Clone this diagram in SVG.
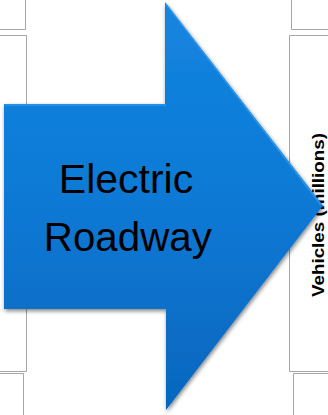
<svg xmlns="http://www.w3.org/2000/svg" width="328" height="415" viewBox="0 0 328 415">
  <defs>
    <linearGradient id="blue" x1="0" y1="0" x2="0" y2="1">
      <stop offset="0" stop-color="#1585e0"/>
      <stop offset="0.5" stop-color="#0a79d5"/>
      <stop offset="1" stop-color="#0666bd"/>
    </linearGradient>
    <filter id="shadow" x="-10%" y="-10%" width="120%" height="120%">
      <feGaussianBlur in="SourceAlpha" stdDeviation="2"/>
      <feOffset dx="1" dy="2" result="b"/>
      <feComponentTransfer><feFuncA type="linear" slope="0.5"/></feComponentTransfer>
      <feMerge><feMergeNode/><feMergeNode in="SourceGraphic"/></feMerge>
    </filter>
    <style>
      .grid { fill: none; stroke: #a6a6a6; stroke-width: 1; }
      .label { font-family: "Liberation Sans", Arial, sans-serif; fill: #000; }
    </style>
  </defs>
  <rect width="328" height="415" fill="#ffffff"/>
  <g id="background-panels">
    <path class="grid" d="M25.5,0 V29.5 H0"/>
    <path class="grid" d="M0,35.5 H26.5 V120"/>
    <path class="grid" d="M26.5,290 V371.5 H0"/>
    <path class="grid" d="M0,373.5 H23.5 V415"/>
    <path class="grid" d="M291.5,0 V29.5 H328"/>
    <path class="grid" d="M328,35.5 H289.5 V371.5 H328"/>
    <path class="grid" d="M328,373.5 H293.5 V415"/>
    <text class="label" transform="translate(323.5,215) rotate(-90)" text-anchor="middle" font-size="16" font-weight="bold" textLength="164" lengthAdjust="spacingAndGlyphs">Vehicles (millions)</text>
  </g>
  <g id="electric-roadway">
    <path d="M4,104 H165 V2 L323,205.5 L166,410 V309 H4 Z" fill="url(#blue)" filter="url(#shadow)"/>
    <path d="M5,105 H166 M166,4 L321,205" fill="none" stroke="#3a9ef0" stroke-width="1.5" opacity="0.7"/>
    <text class="label" x="126" y="192.7" text-anchor="middle" font-size="41">Electric</text>
    <text class="label" x="127.8" y="250.7" text-anchor="middle" font-size="41" textLength="168" lengthAdjust="spacingAndGlyphs">Roadway</text>
  </g>
  <g id="connectors"/>
</svg>
